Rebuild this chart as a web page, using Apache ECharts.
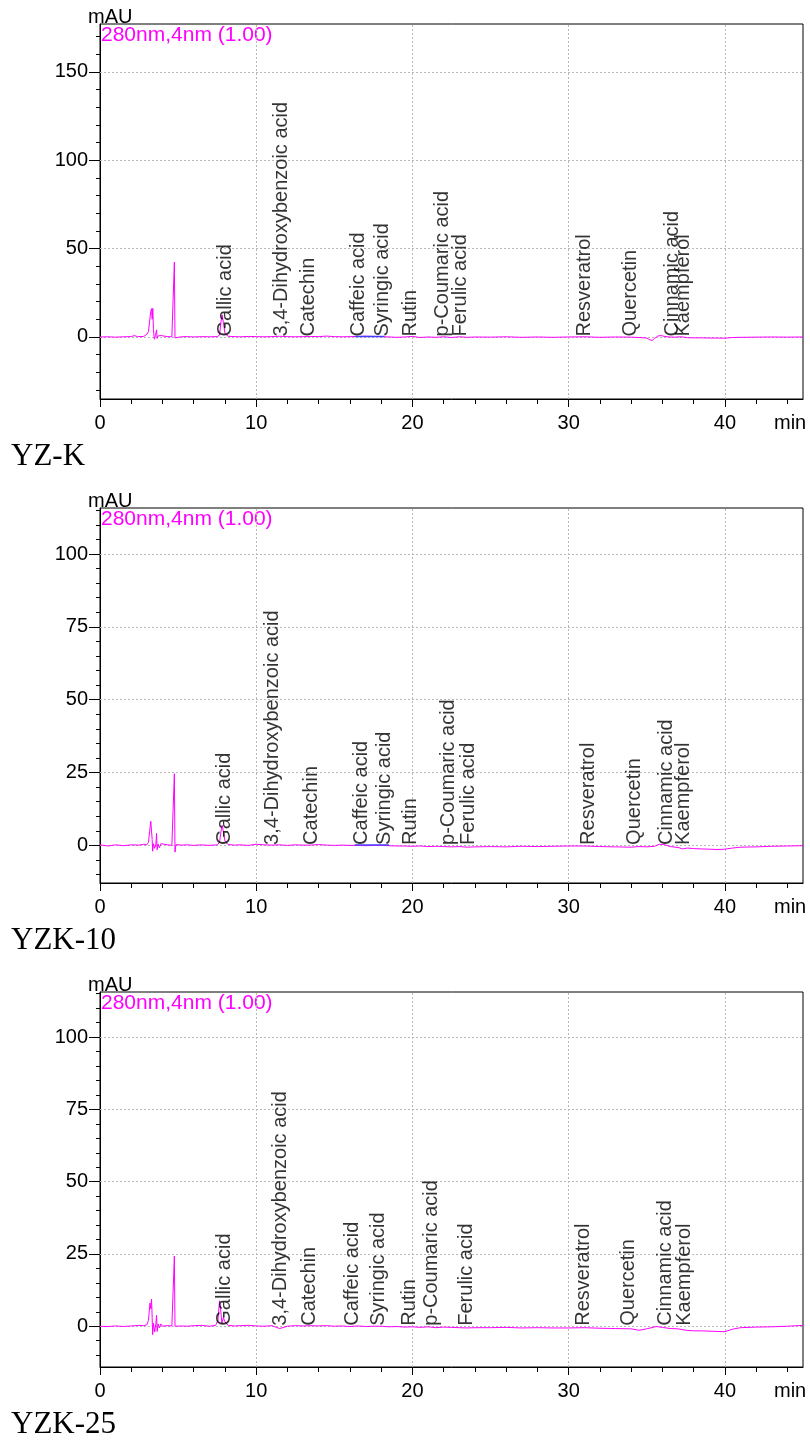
<!DOCTYPE html>
<html>
<head>
<meta charset="utf-8">
<script src="https://cdn.jsdelivr.net/npm/echarts@6/dist/echarts.min.js"></script>
<style>
html,body{margin:0;padding:0;background:#fff;}
#chart{width:810px;height:1443px;}
</style>
</head>
<body>
<div id="chart"></div>
<script>
// ---------- data ----------
const sampleNames = ['YZ-K', 'YZK-10', 'YZK-25'];
const detectorText = '280nm,4nm (1.00)';
const yUnit = 'mAU';
const xUnit = 'min';

const compounds = ['Gallic acid', '3,4-Dihydroxybenzoic acid', 'Catechin', 'Caffeic acid', 'Syringic acid', 'Rutin',
  'p-Coumaric acid', 'Ferulic acid', 'Resveratrol', 'Quercetin', 'Cinnamic acid', 'Kaempferol'];
const rtYZK = [8.06, 11.65, 13.4, 16.56, 18.1, 19.9, 21.94, 23.1, 31.05, 34.0, 36.7, 37.4];
const rtYZK10 = [7.97, 11.07, 13.6, 16.77, 18.27, 19.92, 22.33, 23.6, 31.3, 34.23, 36.28, 37.35];
const rtYZK25 = [8.0, 11.58, 13.46, 16.17, 17.84, 19.87, 21.26, 23.5, 30.98, 33.83, 36.2, 37.44];

const timeYZK = [0,0.5,1,1.5,2,2.2,2.4,2.8,3.0,3.1,3.2,3.25,3.3,3.34,3.38,3.42,3.48,3.55,3.62,3.66,3.72,3.8,3.9,4.0,4.3,4.6,4.72,4.76,4.8,4.9,5.2,5.6,6,6.5,7,7.5,7.65,7.75,7.82,7.9,8.0,8.2,8.6,9,9.5,10,10.5,11,11.5,12,12.5,13,13.5,14,14.5,15,15.5,16,16.5,17,17.5,18,18.5,19,19.5,20,20.5,21,21.5,22,22.5,23,23.5,24,25,26,27,28,29,30,31,32,33,34,34.5,35,35.2,35.35,35.5,35.7,35.9,36.1,36.4,36.8,37.2,37.6,38,38.5,39,39.5,40,40.5,41,42,43,44,45];
const absYZK = [0,0.1,-0.1,0.1,0.2,0.8,0.2,0.3,1.5,3,2.5,14.5,16,10,16.2,4,-1.3,0.8,4,-0.8,0.6,-0.4,0.8,0.1,0.2,0.1,0.3,42.3,-0.5,0.4,0.1,0.2,0,0.2,0.1,0.2,1,9,12.5,8,2,0.4,0.2,0.1,0.3,0.2,0.1,0.2,0.4,0.2,0.1,0.2,0.3,0.2,0.5,0.2,0.1,0.2,0.3,0.4,0.3,0.2,0,-0.2,0,0.3,-0.3,0,-0.2,0.1,-0.3,0.1,-0.2,0,-0.1,0.1,-0.2,0,-0.2,0,0.1,-0.2,0,-0.1,-0.3,-0.6,-1.6,-1.9,-0.8,0.5,0.8,0.4,0,-0.1,0.1,-0.4,-0.5,-0.5,-0.6,-0.6,-0.7,-0.3,-0.2,-0.1,0,-0.1,0];

const timeYZK10 = [0,0.5,1,1.5,2,2.5,2.8,3.0,3.1,3.2,3.25,3.3,3.34,3.37,3.42,3.5,3.58,3.62,3.66,3.72,3.8,3.9,4.0,4.3,4.6,4.72,4.76,4.8,4.86,5.2,5.6,6,6.5,7,7.5,7.65,7.75,7.82,7.9,8.0,8.2,8.6,9,9.5,10,10.5,11,11.5,12,12.5,13,13.5,14,14.5,15,15.5,16,16.5,17,17.5,18,18.5,19,19.5,20,20.5,21,21.5,22,22.5,23,23.5,24,25,26,27,28,29,30,31,32,33,34,34.5,35,35.5,35.8,36.1,36.5,37,37.3,37.6,38,38.5,39,39.5,40,40.5,41,42,43,44,45];
const absYZK10 = [0.2,-0.2,0.2,-0.1,0.2,0.1,0.4,0.2,1,1.5,8.3,8.4,2,-2,0.6,-1,0.5,4.1,-1.5,0.5,-0.8,0.6,0,0.2,0,0.3,24.6,-2.3,0.3,0.1,0.2,0,0.2,0,0.2,1,5,6.9,4.5,1.5,0.3,0.1,0.2,0,0.4,0.2,0.1,0.2,0,0.2,0.1,0.1,0.3,0.1,0,0.1,0,0,-0.1,0,0,-0.1,-0.2,-0.2,-0.3,-0.2,-0.4,-0.3,-0.4,-0.5,-0.4,-0.6,-0.5,-0.4,-0.5,-0.3,-0.4,-0.3,-0.2,-0.2,-0.4,-0.5,-0.6,-0.4,-0.5,-0.3,0.4,0.3,-0.4,-0.7,-1.2,-0.9,-1.1,-1.2,-1.3,-1.4,-1.3,-0.9,-0.6,-0.5,-0.3,-0.2,-0.1];

const timeYZK25 = [0,0.5,1,1.5,2,2.5,2.8,3.0,3.1,3.2,3.25,3.3,3.34,3.37,3.42,3.5,3.58,3.62,3.66,3.72,3.8,3.9,4.0,4.3,4.6,4.72,4.76,4.8,4.86,5.2,5.6,6,6.5,7,7.4,7.55,7.65,7.72,7.8,7.9,8.0,8.2,8.6,9,9.5,10,10.5,11,11.5,12,12.5,13,13.5,14,14.5,15,15.5,16,16.5,17,17.5,18,18.5,19,19.5,20,20.5,21,21.5,22,22.5,23,23.5,24,25,26,27,28,29,30,31,32,33,34,34.5,35,35.6,36,36.5,37,37.5,38,38.5,39,39.5,40,40.5,41,42,43,44,45];
const absYZK25 = [0,-0.1,0.1,-0.1,0.1,0.3,0.2,0.5,2,8,6,9.4,3,-2.9,1,-2,1,3.8,-1.8,0.8,-0.6,0.8,0,0.2,0.1,0.2,24.3,0,0.3,0.1,0,0.2,0.3,0,0.3,2,8.8,6,1,3,1.5,0.3,0.1,0.2,0.3,0.1,0,0.2,-0.8,0,0.2,0.1,0.2,0.1,0.2,0,0.1,-0.1,0.1,-0.1,0,0,-0.2,-0.1,-0.3,-0.2,-0.4,-0.2,-0.5,-0.3,-0.4,-0.5,-0.6,-0.5,-0.5,-0.4,-0.6,-0.5,-0.6,-0.6,-0.5,-0.7,-0.8,-0.9,-1.4,-0.9,-0.1,-0.4,-0.8,-0.9,-1.4,-1.6,-1.6,-1.7,-1.8,-1.9,-1.0,-0.5,-0.3,-0.2,0,0.3];

// integration baseline segments (blue)
const baseSegYZK = [[16.3, 0.3], [18.2, 0.3]];
const baseSegYZK10 = [[16.3, 0.1], [18.5, 0.1]];

// axis ticks / labels
const xMajor = [0, 10, 20, 30, 40];
const xMinor = [0,2,4,6,8,10,12,14,16,18,20,22,24,26,28,30,32,34,36,38,40,42,44];
const yMajor1 = [0, 50, 100, 150];
const yMinor1 = [-30,-20,-10,0,10,20,30,40,50,60,70,80,90,100,110,120,130,140,150,160,170];
const yMajor2 = [0, 25, 50, 75, 100];
const yMinor2 = [-10,-5,0,5,10,15,20,25,30,35,40,45,50,55,60,65,70,75,80,85,90,95,100,105,110,115];
const xGridVals = [10, 20, 30, 40];

// ---------- layout ----------
const panels = [
  { top: 24,  height: 375, yMin: -35.1, yMax: 177.1, yMajor: yMajor1, yMinor: yMinor1, t: timeYZK, a: absYZK, rt: rtYZK, seg: baseSegYZK, name: sampleNames[0] },
  { top: 508, height: 375, yMin: -12.9, yMax: 115.8, yMajor: yMajor2, yMinor: yMinor2, t: timeYZK10, a: absYZK10, rt: rtYZK10, seg: baseSegYZK10, name: sampleNames[1] },
  { top: 992, height: 375, yMin: -14.1, yMax: 115.6, yMajor: yMajor2, yMinor: yMinor2, t: timeYZK25, a: absYZK25, rt: rtYZK25, seg: null, name: sampleNames[2] }
];
const LEFT = 100, RIGHT = 7, XMAX = 45;
const FONT = "'Liberation Sans', Arial, sans-serif";
const SERIF = "'Liberation Serif', 'Times New Roman', serif";

const grids = [], xAxes = [], yAxes = [], series = [], graphics = [];
panels.forEach((p, i) => {
  grids.push({ left: LEFT, right: RIGHT, top: p.top, height: p.height, show: true, borderColor: '#000', borderWidth: 1, backgroundColor: 'transparent', containLabel: false, outerBoundsMode: 'none' });
  // main x axis
  xAxes.push({ type: 'value', gridIndex: i, min: 0, max: XMAX, position: 'bottom',
    axisLine: { show: true, onZero: false, lineStyle: { color: '#000', width: 1 } },
    axisTick: { show: true, inside: false, length: 8, lineStyle: { color: '#000' }, customValues: xMajor },
    axisLabel: { show: true, color: '#000', fontFamily: FONT, fontSize: 20, margin: 14, customValues: xMajor },
    splitLine: { show: false }, minorTick: { show: false } });
  // minor x axis
  xAxes.push({ type: 'value', gridIndex: i, min: 0, max: XMAX, position: 'bottom',
    axisLine: { show: false, onZero: false },
    axisTick: { show: true, inside: false, length: 5, lineStyle: { color: '#000' }, customValues: xMinor },
    axisLabel: { show: false }, splitLine: { show: false } });
  // main y axis
  yAxes.push({ type: 'value', gridIndex: i, min: p.yMin, max: p.yMax, position: 'left',
    axisLine: { show: true, onZero: false, lineStyle: { color: '#000', width: 1 } },
    axisTick: { show: true, inside: false, length: 11, lineStyle: { color: '#000' }, customValues: p.yMajor },
    axisLabel: { show: true, color: '#000', fontFamily: FONT, fontSize: 20, margin: 12, customValues: p.yMajor },
    splitLine: { show: false } });
  // minor y axis
  yAxes.push({ type: 'value', gridIndex: i, min: p.yMin, max: p.yMax, position: 'left',
    axisLine: { show: false, onZero: false },
    axisTick: { show: true, inside: false, length: 4, lineStyle: { color: '#000' }, customValues: p.yMinor },
    axisLabel: { show: false }, splitLine: { show: false } });

  const xi = 2 * i, yi = 2 * i;
  // dotted grid lines
  series.push({ type: 'line', xAxisIndex: xi, yAxisIndex: yi, data: [[0, null]], silent: true, symbol: 'none', z: 1,
    markLine: { silent: true, z: 1, symbol: ['none', 'none'], animation: false, label: { show: false },
      lineStyle: { type: [2, 2], color: '#b8b8b8', width: 1 },
      data: p.yMajor.map(v => ({ yAxis: v })).concat(xGridVals.map(v => ({ xAxis: v }))) } });
  // chromatogram
  series.push({ type: 'line', xAxisIndex: xi, yAxisIndex: yi, symbol: 'none', z: 3,
    lineStyle: { color: '#ff00ff', width: 1 }, data: p.t.map((t, k) => [t, p.a[k]]) });
  if (p.seg) {
    series.push({ type: 'line', xAxisIndex: xi, yAxisIndex: yi, symbol: 'none', z: 4,
      lineStyle: { color: '#4a3cff', width: 1.5 }, data: p.seg });
  }
  // peak labels
  series.push({ type: 'scatter', xAxisIndex: xi, yAxisIndex: yi, symbolSize: 1, z: 5,
    itemStyle: { color: 'rgba(0,0,0,0)' }, silent: true,
    data: p.rt.map((t, k) => ({ value: [t, 0], name: compounds[k] })),
    label: { show: true, formatter: '{b}', position: [0, 0], offset: [0, -2], rotate: 90, align: 'left', verticalAlign: 'middle',
      color: '#000', fontFamily: FONT, fontSize: 20 },
    labelLayout: { hideOverlap: false } });

  // texts
  const bottom = p.top + p.height;
  graphics.push({ type: 'text', left: 88, top: p.top - 17, style: { text: yUnit, font: '20px ' + FONT, fill: '#000' } });
  graphics.push({ type: 'text', left: 101, top: p.top + 1, style: { text: detectorText, font: '21px ' + FONT, fill: '#ff00ff' } });
  graphics.push({ type: 'text', left: 774, top: bottom + 14, style: { text: xUnit, font: '20px ' + FONT, fill: '#000' } });
  graphics.push({ type: 'text', left: 11, top: bottom + 42, style: { text: p.name, font: '31px ' + SERIF, fill: '#000' } });
});

const chart = echarts.init(document.getElementById('chart'), null, { renderer: 'canvas' });
chart.setOption({
  animation: false,
  backgroundColor: '#fff',
  grid: grids,
  xAxis: xAxes,
  yAxis: yAxes,
  series: series,
  graphic: graphics
});
</script>
</body>
</html>
